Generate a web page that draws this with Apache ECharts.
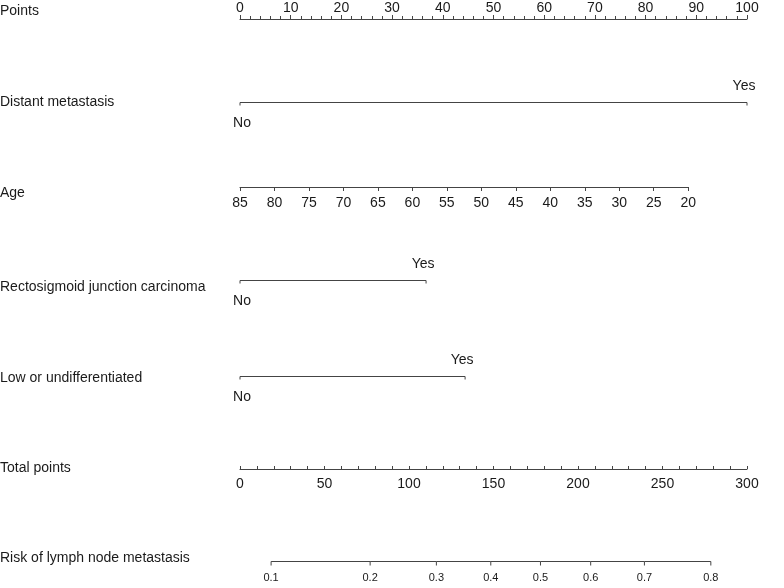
<!DOCTYPE html>
<html>
<head>
<meta charset="utf-8">
<script src="https://cdn.jsdelivr.net/npm/echarts@6/dist/echarts.min.js"></script>
<style>
  html, body { margin: 0; padding: 0; background: #fff; }
  #main { width: 784px; height: 588px; }
</style>
</head>
<body>
<div id="main"></div>
<script>
// row titles down the left side
var rowNames = ['Points', 'Distant metastasis', 'Age', 'Rectosigmoid junction carcinoma',
  'Low or undifferentiated', 'Total points', 'Risk of lymph node metastasis'];

// binary predictors: points for No / Yes
var binaryNames = ['Distant metastasis', 'Rectosigmoid junction carcinoma', 'Low or undifferentiated'];
var binaryLevels = ['No', 'Yes'];
var binaryPoints = [[0, 100], [0, 36.7], [0, 44.4]];

// age: 85 gives 0 points, 20 gives the max
var ageMin = 20, ageMax = 85, ageStep = 5;
var ageMaxPoints = 88.4;

// total points scale
var totalMax = 300, totalStep = 50;

// risk scale, placed on total points
var riskLabels = ['0.1', '0.2', '0.3', '0.4', '0.5', '0.6', '0.7', '0.8'];
var riskTotalPoints = [18.4, 77.0, 116.2, 148.4, 177.8, 207.5, 239.3, 278.6];

// layout
var X0 = 240, W = 507;
var rowY = [18, 103, 187, 281, 377, 469, 562];
var nameY = [12, 103, 194, 288, 379, 469, 559];
var lineColor = '#444';
var textColor = '#1a1a1a';
var font = 'Liberation Sans, Arial, Helvetica, sans-serif';

var chartDom = document.getElementById('main'),
    myChart = echarts.init(chartDom),
    grids = [], xAxes = [], yAxes = [], series = [];

function addGrid(top, width) {
  grids.push({ left: X0, top: top, width: width, height: 1 });
  yAxes.push({ gridIndex: grids.length - 1, type: 'value', min: 0, max: 1, show: false });
  return grids.length - 1;
}

// Points axis (top)
var g = addGrid(rowY[0], W);
xAxes.push({
  gridIndex: g, type: 'value', position: 'top', min: 0, max: 100, interval: 10,
  axisLine: { lineStyle: { color: lineColor, width: 1 } },
  axisTick: { show: true, length: 4, lineStyle: { color: lineColor } },
  minorTick: { show: true, splitNumber: 5, length: 3, lineStyle: { color: lineColor } },
  splitLine: { show: false },
  axisLabel: { color: textColor, fontSize: 14, fontFamily: font, margin: 3 }
});

// binary rows
var binaryRows = [1, 3, 4];
binaryNames.forEach(function (name, i) {
  var gi = addGrid(rowY[binaryRows[i]] - 1, W);
  xAxes.push({ gridIndex: gi, type: 'value', min: 0, max: 100, show: false });
  series.push({
    type: 'custom',
    name: name,
    xAxisIndex: xAxes.length - 1,
    yAxisIndex: yAxes.length - 1,
    encode: { x: [0, 1] },
    data: [binaryPoints[i]],
    renderItem: function (params, api) {
      var p0 = api.coord([api.value(0), 1]);
      var p1 = api.coord([api.value(1), 1]);
      var y = Math.round(p0[1]) + 0.5;
      var st = { stroke: lineColor, lineWidth: 1 };
      return {
        type: 'group',
        children: [
          { type: 'line', shape: { x1: p0[0], y1: y, x2: p1[0], y2: y }, style: st },
          { type: 'line', shape: { x1: p0[0], y1: y, x2: p0[0], y2: y + 3 }, style: st },
          { type: 'line', shape: { x1: p1[0], y1: y, x2: p1[0], y2: y + 3 }, style: st },
          { type: 'text', x: p0[0] + 2, y: y + 21, style: {
            text: binaryLevels[0], textAlign: 'center', textVerticalAlign: 'middle',
            fontSize: 14, fontFamily: font, fill: textColor } },
          { type: 'text', x: p1[0] - 3, y: y - 16, style: {
            text: binaryLevels[1], textAlign: 'center', textVerticalAlign: 'middle',
            fontSize: 14, fontFamily: font, fill: textColor } }
        ]
      };
    }
  });
});

// Age
g = addGrid(rowY[2] - 1, W * ageMaxPoints / 100);
xAxes.push({
  gridIndex: g, type: 'value', position: 'bottom', min: ageMin, max: ageMax, interval: ageStep,
  inverse: true,
  axisLine: { lineStyle: { color: lineColor, width: 1 } },
  axisTick: { show: true, length: 4, lineStyle: { color: lineColor } },
  splitLine: { show: false },
  axisLabel: { color: textColor, fontSize: 14, fontFamily: font, margin: 9 }
});

// Total points
g = addGrid(rowY[5] - 1, W);
xAxes.push({
  gridIndex: g, type: 'value', position: 'bottom', min: 0, max: totalMax, interval: totalStep,
  axisLine: { lineStyle: { color: lineColor, width: 1 } },
  axisTick: { show: true, inside: true, length: 3, lineStyle: { color: lineColor } },
  minorTick: { show: true, splitNumber: 5, length: 3, lineStyle: { color: lineColor } },
  splitLine: { show: false },
  axisLabel: { color: textColor, fontSize: 14, fontFamily: font, margin: 8 }
});

// Risk, drawn on the total points scale
g = addGrid(rowY[6] - 1, W);
xAxes.push({ gridIndex: g, type: 'value', min: 0, max: totalMax, show: false });
series.push({
  type: 'custom',
  name: 'Risk',
  xAxisIndex: xAxes.length - 1,
  yAxisIndex: yAxes.length - 1,
  data: riskTotalPoints.map(function (v, i) { return [v, i]; }),
  encode: { x: 0 },
  renderItem: function (params, api) {
    var idx = params.dataIndex;
    var p = api.coord([api.value(0), 1]);
    var y = Math.round(p[1]) + 0.5;
    var st = { stroke: lineColor, lineWidth: 1 };
    var kids = [
      { type: 'line', shape: { x1: p[0], y1: y, x2: p[0], y2: y + 4 }, style: st },
      { type: 'text', x: p[0], y: y + 16, style: {
        text: riskLabels[idx], textAlign: 'center', textVerticalAlign: 'middle',
        fontSize: 11, fontFamily: font, fill: textColor } }
    ];
    if (idx > 0) {
      var q = api.coord([riskTotalPoints[idx - 1], 1]);
      kids.push({ type: 'line', shape: { x1: q[0], y1: y, x2: p[0], y2: y }, style: st });
    }
    return { type: 'group', children: kids };
  }
});

var option = {
  animation: false,
  backgroundColor: '#fff',
  grid: grids,
  xAxis: xAxes,
  yAxis: yAxes,
  series: series,
  graphic: rowNames.map(function (name, i) {
    return {
      type: 'text', left: 0, top: nameY[i] - 8,
      style: { text: name, fontSize: 14, fontFamily: font, fill: textColor }
    };
  })
};

option && myChart.setOption(option);
</script>
</body>
</html>
